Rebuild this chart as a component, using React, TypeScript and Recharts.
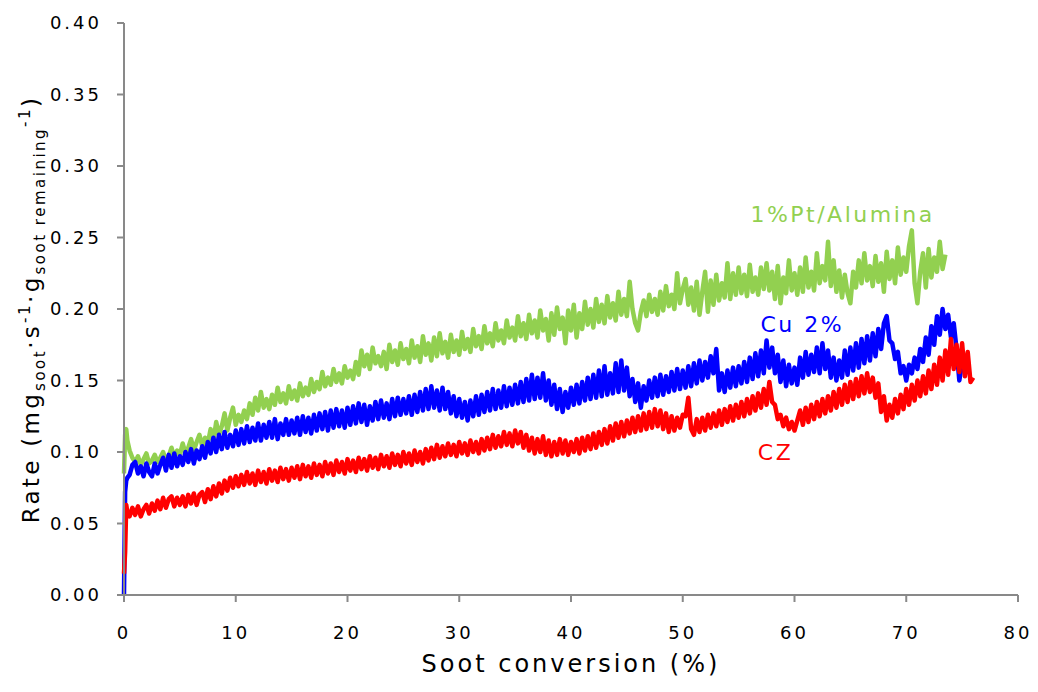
import { LineChart, Line, XAxis, YAxis, ReferenceDot } from "recharts";

// soot conversion (%) — shared x values for all three runs
const conversion = [
  0, 0.1, 0.2, 0.3,
  0.5, 0.75, 1, 1.25, 1.5, 1.75, 2, 2.25, 2.5, 2.75, 3, 3.25, 3.5, 3.75, 4, 4.25, 4.5, 4.75, 5,
  5.25, 5.5, 5.75, 6, 6.25, 6.5, 6.75, 7, 7.25, 7.5, 7.75, 8, 8.25, 8.5, 8.75, 9, 9.25, 9.5, 9.75, 10,
  10.25, 10.5, 10.75, 11, 11.25, 11.5, 11.75, 12, 12.25, 12.5, 12.75, 13, 13.25, 13.5, 13.75, 14, 14.25, 14.5, 14.75, 15,
  15.25, 15.5, 15.75, 16, 16.25, 16.5, 16.75, 17, 17.25, 17.5, 17.75, 18, 18.25, 18.5, 18.75, 19, 19.25, 19.5, 19.75, 20,
  20.25, 20.5, 20.75, 21, 21.25, 21.5, 21.75, 22, 22.25, 22.5, 22.75, 23, 23.25, 23.5, 23.75, 24, 24.25, 24.5, 24.75, 25,
  25.25, 25.5, 25.75, 26, 26.25, 26.5, 26.75, 27, 27.25, 27.5, 27.75, 28, 28.25, 28.5, 28.75, 29, 29.25, 29.5, 29.75, 30,
  30.25, 30.5, 30.75, 31, 31.25, 31.5, 31.75, 32, 32.25, 32.5, 32.75, 33, 33.25, 33.5, 33.75, 34, 34.25, 34.5, 34.75, 35,
  35.25, 35.5, 35.75, 36, 36.25, 36.5, 36.75, 37, 37.25, 37.5, 37.75, 38, 38.25, 38.5, 38.75, 39, 39.25, 39.5, 39.75, 40,
  40.25, 40.5, 40.75, 41, 41.25, 41.5, 41.75, 42, 42.25, 42.5, 42.75, 43, 43.25, 43.5, 43.75, 44, 44.25, 44.5, 44.75, 45,
  45.25, 45.5, 45.75, 46, 46.25, 46.5, 46.75, 47, 47.25, 47.5, 47.75, 48, 48.25, 48.5, 48.75, 49, 49.25, 49.5, 49.75, 50,
  50.25, 50.5, 50.75, 51, 51.25, 51.5, 51.75, 52, 52.25, 52.5, 52.75, 53, 53.25, 53.5, 53.75, 54, 54.25, 54.5, 54.75, 55,
  55.25, 55.5, 55.75, 56, 56.25, 56.5, 56.75, 57, 57.25, 57.5, 57.75, 58, 58.25, 58.5, 58.75, 59, 59.25, 59.5, 59.75, 60,
  60.25, 60.5, 60.75, 61, 61.25, 61.5, 61.75, 62, 62.25, 62.5, 62.75, 63, 63.25, 63.5, 63.75, 64, 64.25, 64.5, 64.75, 65,
  65.25, 65.5, 65.75, 66, 66.25, 66.5, 66.75, 67, 67.25, 67.5, 67.75, 68, 68.25, 68.5, 68.75, 69, 69.25, 69.5, 69.75, 70,
  70.25, 70.5, 70.75, 71, 71.25, 71.5, 71.75, 72, 72.25, 72.5, 72.75, 73, 73.25, 73.5, 73.75, 74, 74.25, 74.5, 74.75, 75,
  75.25, 75.5, 75.75, 76,
];

const ptAlumina = [
  0.085, 0.112, 0.116, 0.108,
  0.101, 0.096, 0.093, 0.097, 0.091, 0.095, 0.099, 0.092, 0.094, 0.098, 0.093, 0.096, 0.100, 0.094, 0.097, 0.103, 0.096, 0.101, 0.098,
  0.106, 0.099, 0.103, 0.109, 0.101, 0.107, 0.112, 0.104, 0.110, 0.106, 0.116, 0.108, 0.121, 0.112, 0.118, 0.127, 0.115, 0.124, 0.131, 0.119,
  0.126, 0.121, 0.129, 0.123, 0.134, 0.126, 0.138, 0.129, 0.142, 0.131, 0.137, 0.130, 0.140, 0.133, 0.145, 0.135, 0.141, 0.134, 0.146, 0.137,
  0.143, 0.136, 0.148, 0.139, 0.145, 0.140, 0.151, 0.142, 0.149, 0.144, 0.156, 0.146, 0.152, 0.147, 0.158, 0.149, 0.155, 0.148, 0.160, 0.152,
  0.157, 0.151, 0.163, 0.154, 0.171, 0.160, 0.168, 0.158, 0.173, 0.162, 0.167, 0.160, 0.170, 0.158, 0.175, 0.163, 0.171, 0.161, 0.176, 0.165,
  0.172, 0.162, 0.178, 0.166, 0.174, 0.163, 0.181, 0.168, 0.176, 0.164, 0.180, 0.167, 0.183, 0.169, 0.177, 0.166, 0.182, 0.170, 0.178, 0.168,
  0.184, 0.172, 0.179, 0.170, 0.186, 0.174, 0.181, 0.172, 0.188, 0.176, 0.183, 0.174, 0.190, 0.178, 0.185, 0.176, 0.192, 0.180, 0.187, 0.178,
  0.195, 0.181, 0.190, 0.179, 0.196, 0.183, 0.192, 0.180, 0.199, 0.185, 0.193, 0.178, 0.197, 0.182, 0.201, 0.186, 0.194, 0.176, 0.199, 0.185,
  0.203, 0.180, 0.197, 0.186, 0.205, 0.189, 0.200, 0.187, 0.207, 0.191, 0.203, 0.190, 0.209, 0.194, 0.204, 0.192, 0.212, 0.196, 0.207, 0.195,
  0.219, 0.200, 0.190, 0.185, 0.198, 0.206, 0.195, 0.210, 0.198, 0.207, 0.196, 0.212, 0.199, 0.216, 0.202, 0.210, 0.200, 0.225, 0.204, 0.214,
  0.221, 0.203, 0.215, 0.199, 0.219, 0.196, 0.212, 0.226, 0.198, 0.220, 0.203, 0.224, 0.206, 0.218, 0.208, 0.232, 0.207, 0.225, 0.210, 0.229,
  0.211, 0.224, 0.209, 0.231, 0.212, 0.222, 0.210, 0.229, 0.214, 0.232, 0.213, 0.226, 0.207, 0.230, 0.204, 0.222, 0.211, 0.234, 0.213, 0.225,
  0.210, 0.229, 0.212, 0.236, 0.215, 0.226, 0.213, 0.239, 0.218, 0.230, 0.220, 0.247, 0.216, 0.234, 0.212, 0.227, 0.208, 0.224, 0.211, 0.204,
  0.226, 0.215, 0.234, 0.218, 0.239, 0.220, 0.230, 0.216, 0.237, 0.219, 0.232, 0.212, 0.240, 0.221, 0.234, 0.218, 0.243, 0.224, 0.236, 0.226,
  0.244, 0.255, 0.218, 0.204, 0.226, 0.239, 0.215, 0.242, 0.222, 0.236, 0.226, 0.247, 0.228, 0.238,
];

const cu2 = [
  0.000, 0.072, 0.080, 0.082,
  0.084, 0.091, 0.093, 0.085, 0.090, 0.083, 0.092, 0.086, 0.083, 0.092, 0.085, 0.091, 0.096, 0.087, 0.098, 0.089, 0.099, 0.090, 0.097,
  0.091, 0.100, 0.093, 0.102, 0.092, 0.101, 0.095, 0.104, 0.096, 0.107, 0.099, 0.110, 0.100, 0.112, 0.102, 0.114, 0.103, 0.112, 0.104, 0.115,
  0.105, 0.116, 0.106, 0.118, 0.107, 0.117, 0.108, 0.120, 0.108, 0.119, 0.110, 0.121, 0.110, 0.123, 0.109, 0.120, 0.112, 0.123, 0.112, 0.122,
  0.113, 0.124, 0.112, 0.125, 0.114, 0.124, 0.113, 0.126, 0.115, 0.127, 0.116, 0.128, 0.115, 0.129, 0.117, 0.130, 0.118, 0.129, 0.117, 0.131,
  0.119, 0.132, 0.120, 0.134, 0.121, 0.133, 0.119, 0.132, 0.122, 0.135, 0.123, 0.136, 0.124, 0.134, 0.123, 0.137, 0.125, 0.138, 0.126, 0.137,
  0.127, 0.139, 0.126, 0.140, 0.128, 0.142, 0.129, 0.144, 0.130, 0.146, 0.131, 0.143, 0.129, 0.145, 0.130, 0.142, 0.127, 0.139, 0.125, 0.137,
  0.124, 0.135, 0.122, 0.136, 0.125, 0.139, 0.126, 0.140, 0.128, 0.142, 0.129, 0.144, 0.130, 0.143, 0.131, 0.146, 0.132, 0.145, 0.133, 0.147,
  0.134, 0.149, 0.135, 0.151, 0.136, 0.154, 0.137, 0.152, 0.138, 0.155, 0.136, 0.150, 0.133, 0.147, 0.130, 0.144, 0.128, 0.142, 0.131, 0.145,
  0.133, 0.147, 0.134, 0.149, 0.136, 0.152, 0.137, 0.154, 0.138, 0.157, 0.139, 0.160, 0.140, 0.155, 0.141, 0.162, 0.142, 0.164, 0.143, 0.159,
  0.139, 0.151, 0.135, 0.148, 0.131, 0.146, 0.136, 0.150, 0.138, 0.152, 0.139, 0.154, 0.140, 0.153, 0.142, 0.156, 0.143, 0.158, 0.144, 0.157,
  0.145, 0.160, 0.146, 0.162, 0.148, 0.164, 0.150, 0.163, 0.152, 0.167, 0.155, 0.172, 0.143, 0.155, 0.142, 0.157, 0.145, 0.159, 0.146, 0.160,
  0.148, 0.163, 0.149, 0.166, 0.151, 0.169, 0.153, 0.171, 0.155, 0.178, 0.159, 0.173, 0.155, 0.168, 0.149, 0.164, 0.146, 0.161, 0.148, 0.159,
  0.147, 0.166, 0.152, 0.170, 0.154, 0.168, 0.156, 0.173, 0.155, 0.176, 0.158, 0.171, 0.152, 0.166, 0.150, 0.164, 0.152, 0.171, 0.154, 0.173,
  0.157, 0.176, 0.159, 0.179, 0.162, 0.181, 0.164, 0.183, 0.167, 0.186, 0.172, 0.190, 0.195, 0.178, 0.176, 0.165, 0.170, 0.155, 0.160, 0.150,
  0.161, 0.155, 0.166, 0.158, 0.172, 0.163, 0.180, 0.168, 0.188, 0.175, 0.195, 0.182, 0.200, 0.186, 0.196, 0.180, 0.190, 0.172, 0.150, 0.162,
];

const cz = [
  0.015, 0.030, 0.063, 0.058,
  0.055, 0.061, 0.056, 0.062, 0.055, 0.060, 0.063, 0.057, 0.064, 0.059, 0.066, 0.060, 0.068, 0.061, 0.067, 0.069, 0.062, 0.068, 0.063,
  0.069, 0.062, 0.070, 0.064, 0.071, 0.063, 0.070, 0.072, 0.065, 0.074, 0.067, 0.076, 0.069, 0.078, 0.071, 0.080, 0.073, 0.082, 0.075, 0.083,
  0.076, 0.084, 0.077, 0.086, 0.078, 0.085, 0.077, 0.087, 0.079, 0.086, 0.078, 0.088, 0.080, 0.087, 0.079, 0.089, 0.081, 0.088, 0.080, 0.089,
  0.082, 0.090, 0.081, 0.091, 0.083, 0.090, 0.082, 0.092, 0.084, 0.091, 0.083, 0.093, 0.085, 0.092, 0.084, 0.094, 0.086, 0.093, 0.085, 0.095,
  0.087, 0.094, 0.086, 0.096, 0.088, 0.095, 0.087, 0.097, 0.089, 0.096, 0.088, 0.098, 0.090, 0.097, 0.089, 0.099, 0.091, 0.098, 0.090, 0.100,
  0.092, 0.099, 0.091, 0.101, 0.093, 0.100, 0.092, 0.102, 0.094, 0.103, 0.095, 0.105, 0.096, 0.104, 0.097, 0.106, 0.098, 0.105, 0.097, 0.107,
  0.099, 0.106, 0.098, 0.108, 0.100, 0.107, 0.099, 0.109, 0.101, 0.110, 0.102, 0.112, 0.103, 0.111, 0.104, 0.114, 0.105, 0.113, 0.104, 0.115,
  0.106, 0.114, 0.103, 0.112, 0.101, 0.110, 0.099, 0.109, 0.100, 0.111, 0.098, 0.108, 0.097, 0.107, 0.098, 0.109, 0.099, 0.108, 0.098, 0.107,
  0.100, 0.109, 0.099, 0.110, 0.101, 0.111, 0.102, 0.113, 0.103, 0.114, 0.105, 0.116, 0.106, 0.118, 0.108, 0.120, 0.110, 0.121, 0.111, 0.122,
  0.113, 0.124, 0.114, 0.125, 0.115, 0.127, 0.116, 0.128, 0.117, 0.130, 0.118, 0.129, 0.116, 0.127, 0.114, 0.125, 0.115, 0.124, 0.117, 0.126,
  0.125, 0.138, 0.116, 0.112, 0.123, 0.114, 0.124, 0.115, 0.126, 0.117, 0.127, 0.118, 0.129, 0.119, 0.130, 0.121, 0.132, 0.122, 0.133, 0.124,
  0.135, 0.125, 0.137, 0.127, 0.139, 0.129, 0.141, 0.131, 0.144, 0.133, 0.149, 0.135, 0.133, 0.123, 0.126, 0.118, 0.124, 0.116, 0.121, 0.115,
  0.122, 0.129, 0.119, 0.131, 0.121, 0.133, 0.123, 0.135, 0.125, 0.137, 0.127, 0.139, 0.129, 0.142, 0.131, 0.144, 0.133, 0.147, 0.135, 0.149,
  0.137, 0.151, 0.139, 0.153, 0.141, 0.155, 0.142, 0.152, 0.138, 0.148, 0.128, 0.139, 0.122, 0.133, 0.124, 0.137, 0.127, 0.140, 0.130, 0.144,
  0.133, 0.147, 0.136, 0.150, 0.139, 0.153, 0.141, 0.157, 0.144, 0.161, 0.147, 0.166, 0.150, 0.171, 0.154, 0.179, 0.158, 0.175, 0.156, 0.176,
  0.153, 0.170, 0.149, 0.152,
];

const xTicks = [0, 10, 20, 30, 40, 50, 60, 70, 80];
const yTicks = [0, 0.05, 0.1, 0.15, 0.2, 0.25, 0.3, 0.35, 0.4];

const data = conversion.map((x, i) => ({ x, pt: ptAlumina[i], cu: cu2[i], cz: cz[i] }));

const FONT = "'DejaVu Sans', Verdana, sans-serif";
const AXIS = "#898989";
const GREEN = "#92D050";
const BLUE = "#0000FF";
const RED = "#FF0000";

const tickStyle = { fill: "#000", fontSize: 18, fontFamily: FONT, letterSpacing: 3 };

function XTitle(props: any) {
  const vb = props.viewBox;
  return (
    <text x={vb.x + vb.width / 2} y={vb.y + 77} textAnchor="middle" fontFamily={FONT} fontSize={24} letterSpacing={3} fill="#000">
      Soot conversion (%)
    </text>
  );
}

function YTitle(props: any) {
  const vb = props.viewBox;
  const cx = 31;
  const cy = vb.y + vb.height / 2;
  const sub = { fontSize: 15, letterSpacing: 2.5 };
  return (
    <text x={cx} y={cy} transform={`rotate(-90, ${cx}, ${cy})`} textAnchor="middle" fontFamily={FONT} fontSize={23} letterSpacing={3.3} fill="#000">
      <tspan>Rate (mg</tspan>
      <tspan dy={6} {...sub}>soot</tspan>
      <tspan dy={-6}>·s</tspan>
      <tspan dy={-9} {...sub}>-1</tspan>
      <tspan dy={9}>·g</tspan>
      <tspan dy={6} {...sub}>soot remaining</tspan>
      <tspan dy={-15} {...sub}>-1</tspan>
      <tspan dy={9}>)</tspan>
    </text>
  );
}

const seriesLabel = (text: string, color: string) => (p: any) => (
  <text x={p.cx} y={p.cy} textAnchor="middle" dominantBaseline="central" fontFamily={FONT} fontSize={22} letterSpacing={2.5} fill={color}>
    {text}
  </text>
);

export default function App() {
  return (
    <LineChart width={1030} height={684} data={data} margin={{ top: 15, right: 20, bottom: 0, left: 0 }}>
      <XAxis
        dataKey="x"
        type="number"
        domain={[0, 80]}
        ticks={xTicks}
        stroke={AXIS}
        strokeWidth={2}
        tickSize={7}
        tickMargin={24}
        tick={tickStyle}
        height={97}
        label={{ content: XTitle }}
      />
      <YAxis
        type="number"
        domain={[0, 0.4]}
        ticks={yTicks}
        tickFormatter={(v: number) => v.toFixed(2)}
        stroke={AXIS}
        strokeWidth={2}
        tickSize={7}
        tickMargin={15}
        tick={tickStyle}
        width={116}
        label={{ content: YTitle }}
      />
      <Line dataKey="pt" stroke={GREEN} strokeWidth={4.5} dot={false} isAnimationActive={false} strokeLinejoin="round" />
      <Line dataKey="cu" stroke={BLUE} strokeWidth={4.5} dot={false} isAnimationActive={false} strokeLinejoin="round" />
      <Line dataKey="cz" stroke={RED} strokeWidth={4.5} dot={false} isAnimationActive={false} strokeLinejoin="round" />
      <ReferenceDot x={64.3} y={0.266} r={0} shape={seriesLabel("1%Pt/Alumina", GREEN)} />
      <ReferenceDot x={60.7} y={0.189} r={0} shape={seriesLabel("Cu 2%", BLUE)} />
      <ReferenceDot x={58.3} y={0.1} r={0} shape={seriesLabel("CZ", RED)} />
    </LineChart>
  );
}
